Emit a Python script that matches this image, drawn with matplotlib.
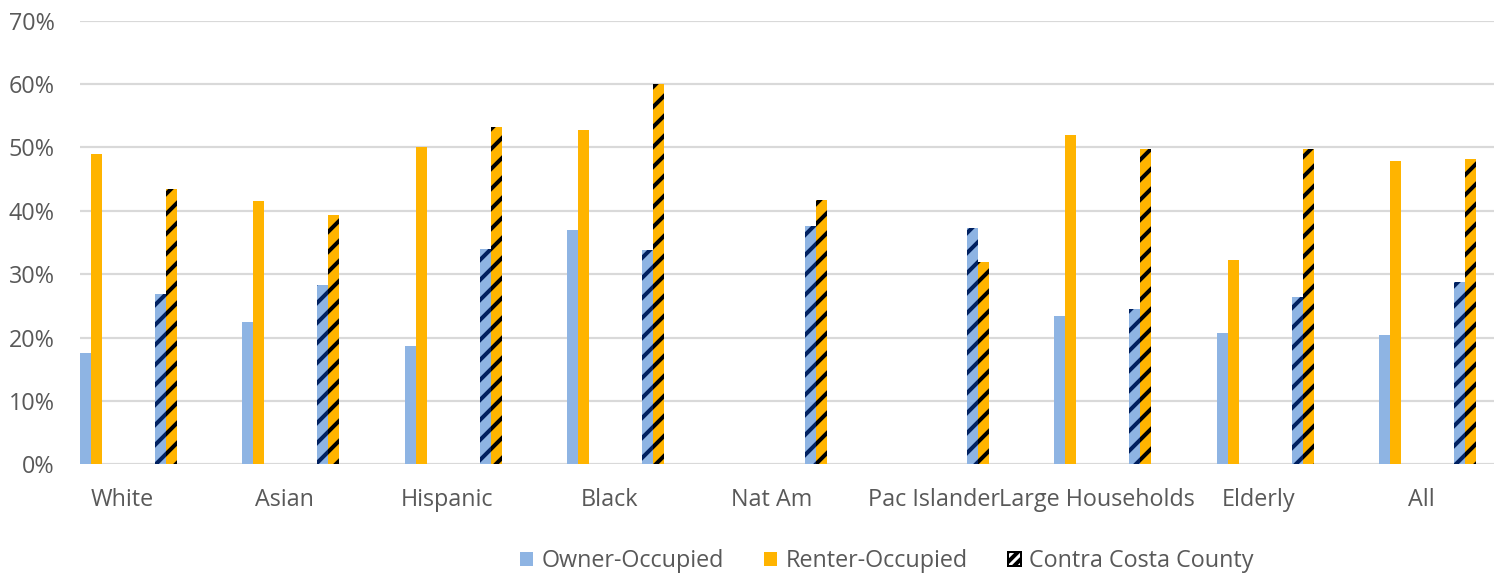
import numpy as np
import matplotlib
matplotlib.use("Agg")
import matplotlib.pyplot as plt
from matplotlib.patches import Patch
from matplotlib.ticker import PercentFormatter

plt.rcParams['font.family'] = ['Open Sans', 'DejaVu Sans']
plt.rcParams['font.size'] = 14
plt.rcParams['hatch.linewidth'] = 2.4

categories = ["White", "Asian", "Hispanic", "Black", "Nat Am", "Pac Islander",
              "Large Households", "Elderly", "All"]
owner = [17.6, 22.4, 18.7, 37.0, np.nan, np.nan, 23.4, 20.7, 20.4]
renter = [49.0, 41.6, 50.0, 52.8, np.nan, np.nan, 52.0, 32.3, 47.8]
county_owner = [26.8, 28.3, 34.0, 33.8, 37.6, 37.3, 24.5, 26.4, 28.7]
county_renter = [43.5, 39.4, 53.2, 60.0, 41.7, 31.9, 49.7, 49.8, 48.2]
legend_labels = ["Owner-Occupied", "Renter-Occupied", "Contra Costa County"]

BLUE = "#8EB4E3"
ORANGE = "#FFB400"
TEXT = "#595959"
GRID = "#D9D9D9"

fig = plt.figure(figsize=(12.45, 4.775), dpi=120)
ax = fig.add_axes([0.0535, 0.1897, 0.9465, 0.7745])

x = np.arange(len(categories))
w = 0.068
county_off = 0.462

ax.bar(x, owner, w, align='edge', color=BLUE, linewidth=0)
ax.bar(x + w, renter, w, align='edge', color=ORANGE, linewidth=0)
ax.bar(x + county_off, county_owner, w, align='edge', facecolor=BLUE,
       edgecolor="#002060", hatch='//', linewidth=0)
ax.bar(x + county_off + w, county_renter, w, align='edge', facecolor=ORANGE,
       edgecolor="black", hatch='//', linewidth=0)

ax.set_xlim(0, 8.707)
ax.set_ylim(0, 70)
ax.set_yticks(np.arange(0, 71, 10))
ax.yaxis.set_major_formatter(PercentFormatter(decimals=0))
ax.set_xticks(x + 0.259)
ax.set_xticklabels(categories)

ax.set_axisbelow(True)
ax.yaxis.grid(True, color=GRID, linewidth=1.3)
for s in ax.spines.values():
    s.set_visible(False)
ax.tick_params(axis='both', length=0, colors=TEXT, labelsize=14)
ax.tick_params(axis='y', pad=15)
ax.tick_params(axis='x', pad=14)

handles = [Patch(facecolor=BLUE, linewidth=0),
           Patch(facecolor=ORANGE, linewidth=0),
           Patch(facecolor='white', edgecolor='black', hatch='////', linewidth=1.2)]
leg = fig.legend(handles, legend_labels, loc='center', ncol=3,
                 bbox_to_anchor=(0.5937, 0.021), frameon=False,
                 handlelength=0.55, handleheight=0.55, handletextpad=0.35,
                 columnspacing=1.75, fontsize=14)
for t in leg.get_texts():
    t.set_color(TEXT)

fig.savefig("out.png", dpi=120)
